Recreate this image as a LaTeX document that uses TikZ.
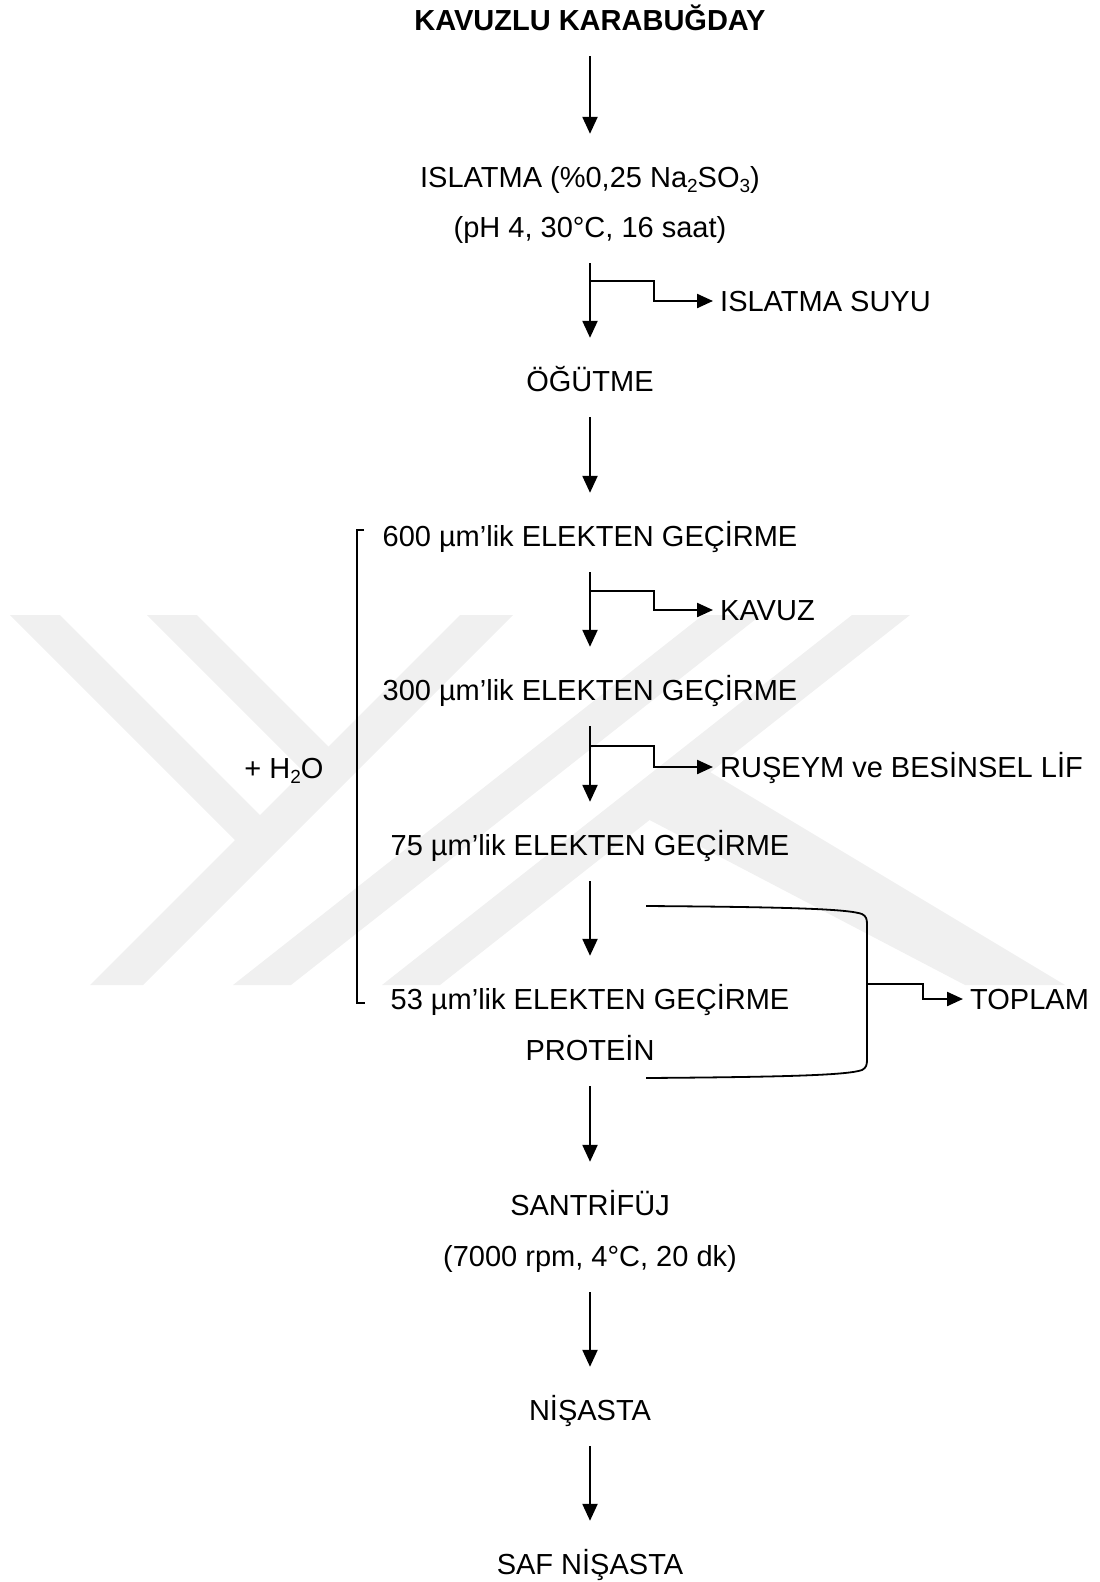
\documentclass[tikz,border=0pt]{standalone}
\usepackage{fontspec}
\setmainfont{Liberation Sans}
\usetikzlibrary{arrows.meta}
\definecolor{wmark}{gray}{0.94}
\newcommand{\subtxt}[1]{\raisebox{-0.18em}{\fontsize{19pt}{19pt}\selectfont #1}}

\begin{document}
\begin{tikzpicture}[x=1pt, y=-1pt,
  stepnode/.style={inner sep=0pt, text height=21pt, text depth=0pt, font=\fontsize{29pt}{34pt}\selectfont},
  sidenode/.style={stepnode, anchor=west},
  flow/.style={line width=2.3pt, -{Triangle[length=17pt, width=15pt]}, shorten <=25.5pt, shorten >=32.5pt},
  branch/.style={line width=2.3pt, -{Triangle[length=16pt, width=14pt]}, shorten >=7pt}]
  \useasboundingbox (0,0) rectangle (1100,1582);

  % watermark
  \fill[wmark] (10,615) -- (60,615) -- (272.5,827.5) -- (247.5,852.5) -- cycle;
  \fill[wmark] (147,615) -- (197,615) -- (341,759) -- (316,784) -- cycle;
  \fill[wmark] (90,985) -- (143,985) -- (513,615) -- (460,615) -- cycle;
  \fill[wmark] (233,985) -- (291,985) -- (761,615) -- (703,615) -- cycle;
  \fill[wmark] (382,985) -- (440,985) -- (910,615) -- (852,615) -- cycle;
  \fill[wmark] (690,760) -- (1065,985) -- (965,985) -- (640,815) -- cycle;

  % flow chart
  \node[stepnode, font=\fontsize{29pt}{34pt}\selectfont\bfseries] (kavuzlu) at (590,20) {KAVUZLU KARABUĞDAY};
  \node[stepnode] (islatma) at (590,177) {ISLATMA (\%0,25 Na\subtxt{2}SO\subtxt{3})};
  \node[stepnode] (islatmaph) at (590,227) {(pH 4, 30°C, 16 saat)};
  \node[sidenode] (islatmasuyu) at (720,301) {ISLATMA SUYU};
  \node[stepnode] (ogutme) at (590,381) {ÖĞÜTME};
  \node[stepnode] (elek600) at (590,536) {600 µm’lik ELEKTEN GEÇİRME};
  \node[sidenode] (kavuz) at (720,610) {KAVUZ};
  \node[stepnode] (elek300) at (590,690) {300 µm’lik ELEKTEN GEÇİRME};
  \node[sidenode] (ruseym) at (720,767) {RUŞEYM ve BESİNSEL LİF};
  \node[stepnode] (elek75) at (590,845) {75 µm’lik ELEKTEN GEÇİRME};
  \node[stepnode] (elek53) at (590,999) {53 µm’lik ELEKTEN GEÇİRME};
  \node[stepnode] (protein) at (590,1050) {PROTEİN};
  \node[sidenode] (toplam) at (970,999) {TOPLAM};
  \node[stepnode] (santrifuj) at (590,1205) {SANTRİFÜJ};
  \node[stepnode] (santrifujkos) at (590,1256) {(7000 rpm, 4°C, 20 dk)};
  \node[stepnode] (nisasta) at (590,1410) {NİŞASTA};
  \node[stepnode] (safnisasta) at (590,1564) {SAF NİŞASTA};
  \node[stepnode] (su) at (284,768) {+ H\subtxt{2}O};

  \draw[flow] (kavuzlu) -- (islatma);
  \draw[flow] (islatmaph) -- (ogutme);
  \draw[flow] (ogutme) -- (elek600);
  \draw[flow] (elek600) -- (elek300);
  \draw[flow] (elek300) -- (elek75);
  \draw[flow] (elek75) -- (elek53);
  \draw[flow] (protein) -- (santrifuj);
  \draw[flow] (santrifujkos) -- (nisasta);
  \draw[flow] (nisasta) -- (safnisasta);

  % side streams
  \coordinate (sep1) at (590,281);
  \coordinate (sep2) at (590,591);
  \coordinate (sep3) at (590,746);
  \coordinate (sep4) at (867,984);
  \draw[branch] (sep1) -- ++(64,0) |- (islatmasuyu);
  \draw[branch] (sep2) -- ++(64,0) |- (kavuz);
  \draw[branch] (sep3) -- ++(64,0) |- (ruseym);
  \draw[branch] (sep4) -- ++(56,0) |- (toplam);

  % water bracket and sum bracket
  \draw[line width=1.4pt] (364,530) -| (357,1003) -- (365,1003);
  \draw[line width=1.8pt] (646,906) .. controls (790,907) and (848,909) .. (862,914)
    .. controls (866,916) and (867,919) .. (867,924) -- (867,1060)
    .. controls (867,1065) and (866,1068) .. (862,1070)
    .. controls (848,1075) and (790,1077) .. (646,1078);
\end{tikzpicture}
\end{document}
